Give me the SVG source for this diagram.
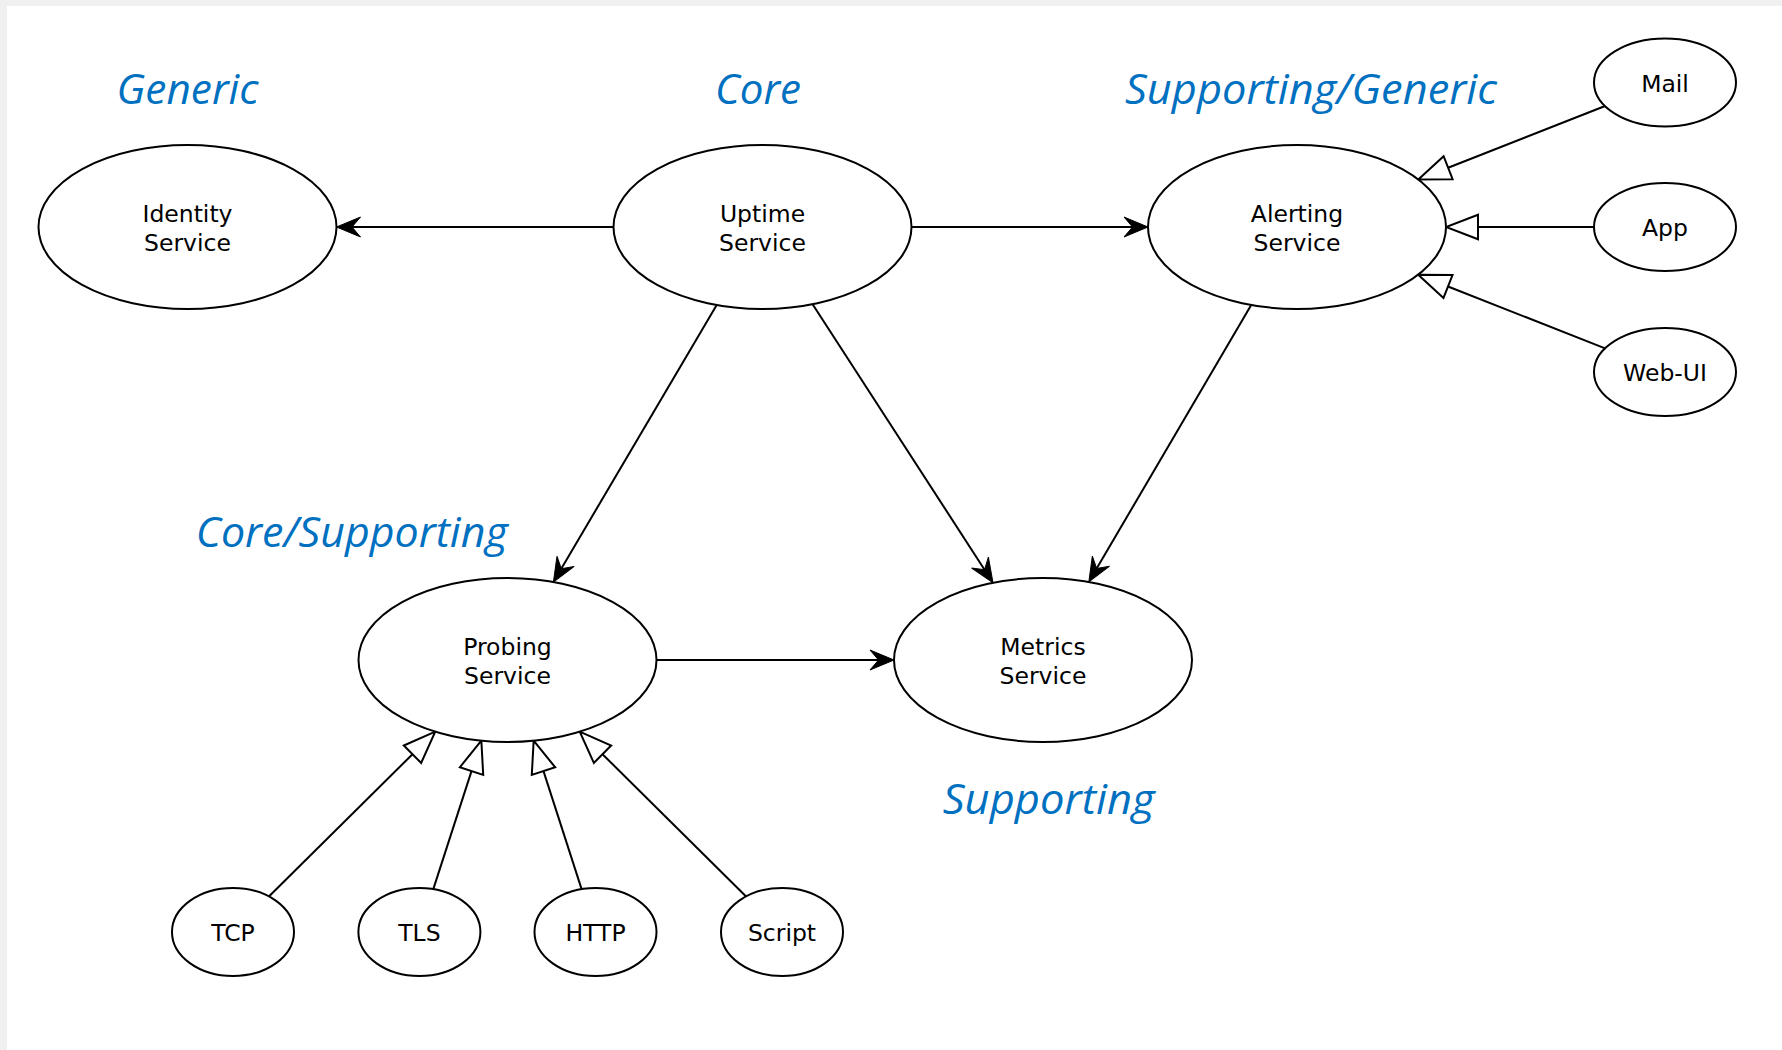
<svg xmlns="http://www.w3.org/2000/svg" width="1782" height="1050" viewBox="0 0 1782 1050">
  <style>
    .node ellipse { fill: #ffffff; stroke: #000000; stroke-width: 2; }
    .node text { font-family: "DejaVu Sans", "Liberation Sans", sans-serif; font-size: 23.5px; fill: #000000; text-anchor: middle; }
    .domain { font-family: "Open Sans", "Noto Sans", "Liberation Sans", sans-serif; font-style: italic; font-size: 42px; fill: #0070c0; text-anchor: middle; }
    .edge { fill: none; stroke: #000000; stroke-width: 2; }
    .uses { marker-end: url(#arrow-filled); }
    .realizes { marker-end: url(#arrow-hollow); }
  </style>
  <defs>
    <!-- solid "classic" arrowhead: tip at x=24, notch at x=8.5 -->
    <marker id="arrow-filled" markerUnits="userSpaceOnUse" viewBox="-2 -12 28 24" markerWidth="28" markerHeight="24" refX="12" refY="0" orient="auto">
      <path d="M24,0 L0,-10 L8.5,0 L0,10 Z" fill="#000000" stroke="#000000" stroke-width="1" stroke-linejoin="miter"/>
    </marker>
    <!-- open triangle (implementation) arrowhead: base at x=0, tip at x=32 -->
    <marker id="arrow-hollow" markerUnits="userSpaceOnUse" viewBox="-2 -15 36 30" markerWidth="36" markerHeight="30" refX="0" refY="0" orient="auto">
      <path d="M0,-12.3 L32,0 L0,12.3 Z" fill="#ffffff" stroke="#000000" stroke-width="2" stroke-linejoin="miter"/>
    </marker>
  </defs>

  <!-- canvas -->
  <rect x="0" y="0" width="1782" height="1050" fill="#f0f0f0"/>
  <rect x="7" y="6" width="1775" height="1044" fill="#ffffff"/>

  <!-- domain classification labels -->
  <g id="domain-labels">
    <text class="domain" x="187.5" y="104" textLength="142" lengthAdjust="spacingAndGlyphs">Generic</text>
    <text class="domain" x="758" y="104" textLength="86" lengthAdjust="spacingAndGlyphs">Core</text>
    <text class="domain" x="1311" y="104" textLength="372" lengthAdjust="spacingAndGlyphs">Supporting/Generic</text>
    <text class="domain" x="351.7" y="547" textLength="312" lengthAdjust="spacingAndGlyphs">Core/Supporting</text>
    <text class="domain" x="1048.7" y="814" textLength="212" lengthAdjust="spacingAndGlyphs">Supporting</text>
  </g>

  <!-- connectors -->
  <g id="connectors">
    <path class="edge uses" d="M613.5,227 L348.5,227"/>
    <path class="edge uses" d="M911.5,227 L1136,227"/>
    <path class="edge uses" d="M716.7,305 L559.5,571.7"/>
    <path class="edge uses" d="M812.6,304.2 L986.5,572.7"/>
    <path class="edge uses" d="M1251.2,305.1 L1094.9,571.5"/>
    <path class="edge uses" d="M656.5,660 L882,660"/>
    <path class="edge realizes" d="M1605.1,106 L1448.1,167.7"/>
    <path class="edge realizes" d="M1594,227 L1478,227"/>
    <path class="edge realizes" d="M1605.1,348.4 L1448,286.5"/>
    <path class="edge realizes" d="M268.9,896.5 L412.5,754.2"/>
    <path class="edge realizes" d="M433.3,889.1 L471.5,771.1"/>
    <path class="edge realizes" d="M581.6,889.1 L543.5,771.1"/>
    <path class="edge realizes" d="M746.1,896.5 L602.5,754.2"/>
  </g>

  <!-- services -->
  <g id="identity-service" class="node">
    <ellipse cx="187.5" cy="227" rx="149" ry="82"/>
    <text x="187.5" y="221.5">Identity</text>
    <text x="187.5" y="250.5">Service</text>
  </g>
  <g id="uptime-service" class="node">
    <ellipse cx="762.5" cy="227" rx="149" ry="82"/>
    <text x="762.5" y="221.5">Uptime</text>
    <text x="762.5" y="250.5">Service</text>
  </g>
  <g id="alerting-service" class="node">
    <ellipse cx="1297" cy="227" rx="149" ry="82"/>
    <text x="1297" y="221.5">Alerting</text>
    <text x="1297" y="250.5">Service</text>
  </g>
  <g id="probing-service" class="node">
    <ellipse cx="507.5" cy="660" rx="149" ry="82"/>
    <text x="507.5" y="654.5">Probing</text>
    <text x="507.5" y="683.5">Service</text>
  </g>
  <g id="metrics-service" class="node">
    <ellipse cx="1043" cy="660" rx="149" ry="82"/>
    <text x="1043" y="654.5">Metrics</text>
    <text x="1043" y="683.5">Service</text>
  </g>

  <!-- alert channels -->
  <g id="mail" class="node">
    <ellipse cx="1665" cy="82.5" rx="71" ry="44"/>
    <text x="1665" y="91.5">Mail</text>
  </g>
  <g id="app" class="node">
    <ellipse cx="1665" cy="227" rx="71" ry="44"/>
    <text x="1665" y="236">App</text>
  </g>
  <g id="web-ui" class="node">
    <ellipse cx="1665" cy="372" rx="71" ry="44"/>
    <text x="1665" y="381">Web-UI</text>
  </g>

  <!-- probe types -->
  <g id="tcp" class="node">
    <ellipse cx="233" cy="932" rx="61" ry="44"/>
    <text x="233" y="941">TCP</text>
  </g>
  <g id="tls" class="node">
    <ellipse cx="419.4" cy="932" rx="61" ry="44"/>
    <text x="419.4" y="941">TLS</text>
  </g>
  <g id="http" class="node">
    <ellipse cx="595.5" cy="932" rx="61" ry="44"/>
    <text x="595.5" y="941">HTTP</text>
  </g>
  <g id="script" class="node">
    <ellipse cx="782" cy="932" rx="61" ry="44"/>
    <text x="782" y="941">Script</text>
  </g>
</svg>
